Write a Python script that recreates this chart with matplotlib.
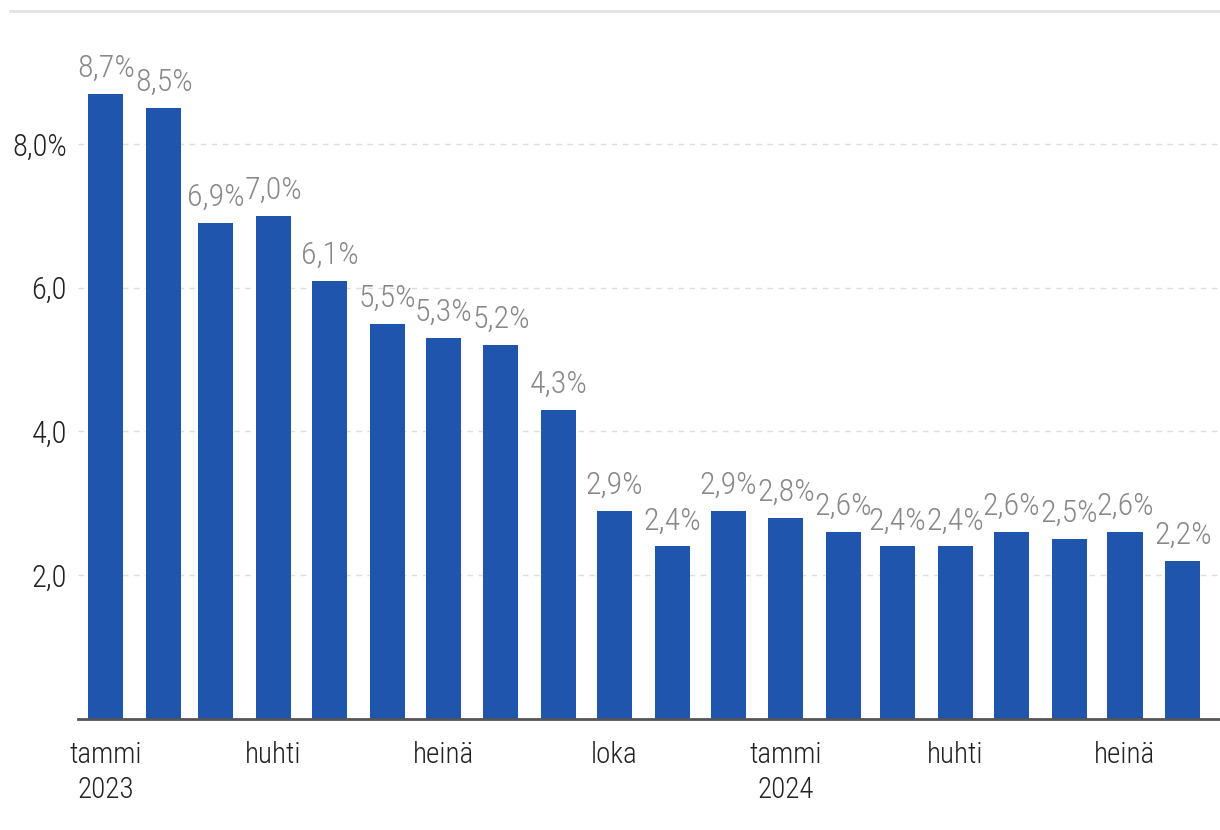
import numpy as np
import matplotlib
matplotlib.use('Agg')
import matplotlib.pyplot as plt
import matplotlib.dates as mdates
from matplotlib.lines import Line2D
from matplotlib import font_manager

# ------------------------
# data
# ------------------------
months = np.arange('2023-01', '2024-09', dtype='datetime64[M]').astype('datetime64[D]')
values = [8.7, 8.5, 6.9, 7.0, 6.1, 5.5, 5.3, 5.2, 4.3, 2.9,
          2.4, 2.9, 2.8, 2.6, 2.4, 2.4, 2.6, 2.5, 2.6, 2.2]
tick_months = ['2023-01-01', '2023-04-01', '2023-07-01', '2023-10-01',
               '2024-01-01', '2024-04-01', '2024-07-01']
tick_labels = ['tammi\n2023', 'huhti', 'heinä', 'loka', 'tammi\n2024', 'huhti', 'heinä']
y_ticks = [2, 4, 6, 8]
y_labels = ['2,0', '4,0', '6,0', '8,0%']

# ------------------------

names = {f.name for f in font_manager.fontManager.ttflist}
fam = [f for f in ['Liberation Sans Narrow', 'Roboto Condensed', 'Roboto', 'DejaVu Sans'] if f in names]
plt.rcParams['font.family'] = fam

bar_color = '#2055ae'
label_color = '#888888'

fig = plt.figure(figsize=(12.2, 8.3), dpi=100)
ax = fig.add_axes([78 / 1220, 1 - 719 / 830, 1 - 78 / 1220, (719 - 11) / 830])

dates = [d.astype(object) for d in months]
ax.bar(dates, values, width=18.8, color=bar_color, zorder=2)

for d, v in zip(dates, values):
    ax.annotate(f'{v:.1f}%'.replace('.', ','), (mdates.date2num(d), v),
                xytext=(0, 8), textcoords='offset points', ha='center', va='bottom',
                fontsize=23, color=label_color, fontweight='light')

ax.set_xlim(mdates.datestr2num('2022-12-17'), mdates.datestr2num('2024-08-21'))
ax.set_ylim(0, 9.85)

ax.set_yticks(y_ticks)
ax.set_yticklabels(y_labels, fontsize=22, color='#222222', fontweight='light')
ax.set_xticks([mdates.datestr2num(t) for t in tick_months])
ax.set_xticklabels(tick_labels, fontsize=21, color='#222222', linespacing=1.3,
                   fontweight='light')
for lab in ax.get_xticklabels():
    lab.set_verticalalignment('top')
ax.tick_params(axis='both', length=0)
ax.tick_params(axis='x', pad=16)
ax.tick_params(axis='y', pad=8)

ax.yaxis.grid(True, linestyle=(0, (4, 4)), color='#dddddd', linewidth=1, zorder=0)
for s in ['top', 'right', 'left']:
    ax.spines[s].set_visible(False)
ax.spines['bottom'].set_color('#555555')
ax.spines['bottom'].set_linewidth(2)

fig.add_artist(Line2D([10 / 1220, 1], [1 - 11 / 830, 1 - 11 / 830],
                      transform=fig.transFigure, color='#e3e3e3', linewidth=2))

fig.savefig('out.png', dpi=100)
